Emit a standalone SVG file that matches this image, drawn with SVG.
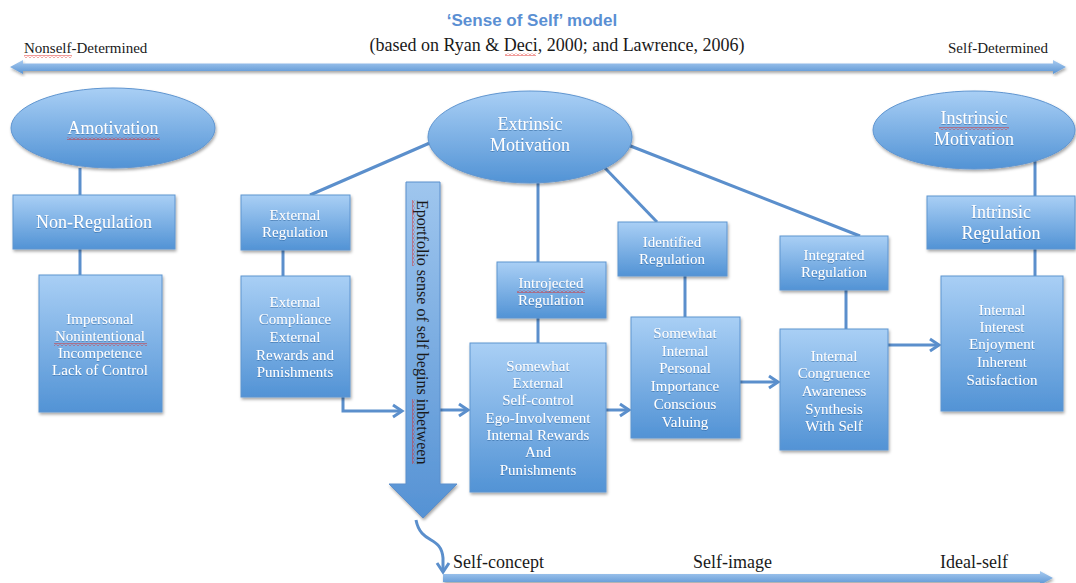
<svg xmlns="http://www.w3.org/2000/svg" width="1076" height="583" viewBox="0 0 1076 583">
<defs>
<linearGradient id="gbox" x1="0" y1="0" x2="0" y2="1">
<stop offset="0" stop-color="#a9cff5"/>
<stop offset="1" stop-color="#5293d5"/>
</linearGradient>
<linearGradient id="gbar" x1="0" y1="0" x2="0" y2="1">
<stop offset="0" stop-color="#a8cbf0"/>
<stop offset="1" stop-color="#5a94d3"/>
</linearGradient>
<linearGradient id="gbig" x1="0" y1="0" x2="0" y2="1">
<stop offset="0" stop-color="#9fc6ee"/>
<stop offset="1" stop-color="#5592d4"/>
</linearGradient>
<filter id="sh" x="-10%" y="-10%" width="130%" height="130%">
<feDropShadow dx="1" dy="2" stdDeviation="1.5" flood-color="#000" flood-opacity="0.35"/>
</filter>
<filter id="tsh" x="-5%" y="-20%" width="110%" height="140%">
<feDropShadow dx="0" dy="1" stdDeviation="0.6" flood-color="#1f4f86" flood-opacity="0.45"/>
</filter>
<marker id="arr" markerUnits="userSpaceOnUse" markerWidth="16" markerHeight="16" refX="12" refY="8" orient="auto">
<path d="M3,2 L12,8 L3,14" fill="none" stroke="#5b8fcc" stroke-width="3"/>
</marker>
<pattern id="squig" patternUnits="userSpaceOnUse" width="4" height="3">
<polyline points="0,2.5 2,0.5 4,2.5" fill="none" stroke="#e0201c" stroke-width="0.9"/>
</pattern>
</defs>
<style>
.box{fill:url(#gbox);stroke:#5f95d0;stroke-width:1;filter:url(#sh)}
.t{font-family:"Liberation Serif",serif;fill:#fff;text-anchor:middle;font-size:15px;filter:url(#tsh)}
.tl{font-size:18px}
.c{stroke:#5b8fcc;stroke-width:3;fill:none}
.lab{font-family:"Liberation Serif",serif;fill:#1a1a1a}
</style>

<!-- header -->
<g id="header">
<text x="532" y="26" font-family="Liberation Sans, sans-serif" font-weight="bold" font-size="17" fill="#5a8fd3" text-anchor="middle">‘Sense of Self’ model</text>
<text x="557" y="51" class="lab" font-size="18" text-anchor="middle">(based on Ryan &amp; Deci, 2000; and Lawrence, 2006)</text>
<text x="24" y="53" class="lab" font-size="15">Nonself-Determined</text>
<text x="1048" y="53" class="lab" font-size="15" text-anchor="end">Self-Determined</text>
<rect x="24" y="55" width="48" height="3" fill="url(#squig)"/>
<rect x="505" y="53" width="31" height="3" fill="url(#squig)"/>
<polygon points="10,67 23,60 23,63.5 1053,63.5 1053,60 1066,67 1053,74 1053,71 23,71 23,74" fill="url(#gbar)" filter="url(#sh)"/>
</g>

<!-- connectors -->
<g id="connectors">
<line class="c" x1="80" y1="168" x2="80" y2="195"/>
<line class="c" x1="80" y1="249" x2="80" y2="275"/>
<line class="c" x1="310" y1="195" x2="432" y2="142"/>
<line class="c" x1="283" y1="250" x2="283" y2="276"/>
<polyline class="c" points="343,397 343,411 402,411" marker-end="url(#arr)"/>
<line class="c" x1="440" y1="410" x2="468" y2="410" marker-end="url(#arr)"/>
<line class="c" x1="538" y1="183" x2="538" y2="262"/>
<line class="c" x1="538" y1="318" x2="538" y2="343"/>
<line class="c" x1="606" y1="410" x2="629" y2="410" marker-end="url(#arr)"/>
<line class="c" x1="605" y1="168" x2="657" y2="222"/>
<line class="c" x1="685" y1="276" x2="685" y2="317"/>
<line class="c" x1="740" y1="382" x2="778" y2="382" marker-end="url(#arr)"/>
<line class="c" x1="628" y1="145" x2="860" y2="236"/>
<line class="c" x1="846" y1="290" x2="846" y2="329"/>
<line class="c" x1="888" y1="345" x2="939" y2="345" marker-end="url(#arr)"/>
<line class="c" x1="1035" y1="158" x2="1035" y2="196"/>
<line class="c" x1="1035" y1="249" x2="1035" y2="276"/>
<path class="c" d="M416,520 C421,545 441,535 443,558 L443,572" marker-end="url(#arr)"/>
</g>

<g id="amotivation">
<ellipse cx="113" cy="128" rx="102" ry="40" class="box"/>
<text x="113" y="134" class="t tl">Amotivation</text>
<rect x="67" y="137" width="93" height="3" fill="url(#squig)"/>
</g>

<g id="non-regulation">
<rect x="13" y="195" width="162" height="54" class="box"/>
<text x="94" y="228" class="t tl">Non-Regulation</text>
</g>

<g id="impersonal">
<rect x="39" y="275" width="123" height="137" class="box"/>
<text class="t"><tspan x="100" y="324">Impersonal</tspan><tspan x="100" y="341">Nonintentional</tspan><tspan x="100" y="358">Incompetence</tspan><tspan x="100" y="375">Lack of Control</tspan></text>
<rect x="54" y="343" width="93" height="3" fill="url(#squig)"/>
</g>

<g id="external-regulation">
<rect x="241" y="195" width="109" height="55" class="box"/>
<text class="t"><tspan x="295" y="220">External</tspan><tspan x="295" y="237">Regulation</tspan></text>
</g>

<g id="external-compliance">
<rect x="241" y="276" width="109" height="121" class="box"/>
<text class="t"><tspan x="295" y="307">External</tspan><tspan x="295" y="324">Compliance</tspan><tspan x="295" y="342">External</tspan><tspan x="295" y="360">Rewards and</tspan><tspan x="295" y="377">Punishments</tspan></text>
</g>

<g id="eportfolio">
<polygon points="406,182 440,182 440,484 457,484 423,518 389,484 406,484" fill="url(#gbig)" stroke="#5b8fcc" stroke-width="1" filter="url(#sh)"/>
<g transform="translate(417,200) rotate(90)">
<text x="0" y="0" class="lab" font-size="16">Eportfolio sense of self begins inbetween</text>
<rect x="0" y="2" width="66" height="3" fill="url(#squig)"/>
<rect x="199" y="2" width="65" height="3" fill="url(#squig)"/>
</g>
</g>

<g id="extrinsic">
<ellipse cx="530" cy="137" rx="102" ry="46" class="box"/>
<text class="t tl"><tspan x="530" y="130">Extrinsic</tspan><tspan x="530" y="151">Motivation</tspan></text>
</g>

<g id="introjected">
<rect x="497" y="262" width="109" height="56" class="box"/>
<text class="t"><tspan x="551" y="288">Introjected</tspan><tspan x="551" y="305">Regulation</tspan></text>
<rect x="517" y="290" width="68" height="3" fill="url(#squig)"/>
</g>

<g id="somewhat-external">
<rect x="470" y="343" width="136" height="149" class="box"/>
<text class="t"><tspan x="538" y="371">Somewhat</tspan><tspan x="538" y="388">External</tspan><tspan x="538" y="405">Self-control</tspan><tspan x="538" y="423">Ego-Involvement</tspan><tspan x="538" y="440">Internal Rewards</tspan><tspan x="538" y="457">And</tspan><tspan x="538" y="475">Punishments</tspan></text>
</g>

<g id="identified">
<rect x="618" y="222" width="109" height="54" class="box"/>
<text class="t"><tspan x="672" y="247">Identified</tspan><tspan x="672" y="264">Regulation</tspan></text>
</g>

<g id="somewhat-internal">
<rect x="631" y="317" width="109" height="121" class="box"/>
<text class="t"><tspan x="685" y="338">Somewhat</tspan><tspan x="685" y="356">Internal</tspan><tspan x="685" y="373">Personal</tspan><tspan x="685" y="391">Importance</tspan><tspan x="685" y="409">Conscious</tspan><tspan x="685" y="427">Valuing</tspan></text>
</g>

<g id="integrated">
<rect x="780" y="236" width="108" height="54" class="box"/>
<text class="t"><tspan x="834" y="260">Integrated</tspan><tspan x="834" y="277">Regulation</tspan></text>
</g>

<g id="internal-congruence">
<rect x="780" y="329" width="108" height="121" class="box"/>
<text class="t"><tspan x="834" y="361">Internal</tspan><tspan x="834" y="378">Congruence</tspan><tspan x="834" y="396">Awareness</tspan><tspan x="834" y="414">Synthesis</tspan><tspan x="834" y="431">With Self</tspan></text>
</g>

<g id="instrinsic">
<ellipse cx="974" cy="130" rx="101" ry="39" class="box"/>
<text class="t tl"><tspan x="974" y="124">Instrinsic</tspan><tspan x="974" y="145">Motivation</tspan></text>
<rect x="939" y="127" width="70" height="3" fill="url(#squig)"/>
</g>

<g id="intrinsic-regulation">
<rect x="927" y="196" width="148" height="53" class="box"/>
<text class="t tl"><tspan x="1001" y="218">Intrinsic</tspan><tspan x="1001" y="239">Regulation</tspan></text>
</g>

<g id="internal-interest">
<rect x="941" y="276" width="122" height="135" class="box"/>
<text class="t"><tspan x="1002" y="315">Internal</tspan><tspan x="1002" y="332">Interest</tspan><tspan x="1002" y="349">Enjoyment</tspan><tspan x="1002" y="367">Inherent</tspan><tspan x="1002" y="385">Satisfaction</tspan></text>
</g>

<g id="self-axis">
<polygon points="443,574 1040,574 1040,571 1053,578 1040,585 1040,582 443,582" fill="url(#gbar)" filter="url(#sh)"/>
<text x="453" y="568" class="lab" font-size="18">Self-concept</text>
<text x="693" y="568" class="lab" font-size="18">Self-image</text>
<text x="940" y="568" class="lab" font-size="18">Ideal-self</text>
</g>
</svg>
